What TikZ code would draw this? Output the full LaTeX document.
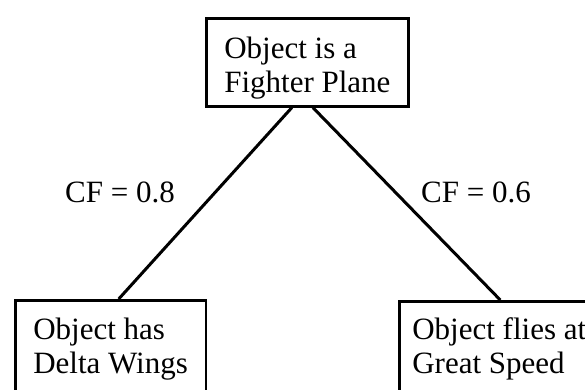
\documentclass[tikz,border=0pt]{standalone}
\usepackage{fontspec}
\setmainfont{Liberation Serif}
\usetikzlibrary{positioning, calc}

\begin{document}
\begin{tikzpicture}[x=1pt, y=-1pt,
    factbox/.style={draw, line width=2.6pt, align=left, inner ysep=0pt,
      inner xsep=18pt, anchor=north west, font=\fontsize{31}{34}\selectfont},
    cflabel/.style={anchor=base west, inner sep=0pt, font=\fontsize{31}{34}\selectfont},
    link/.style={line width=3pt}]
        \clip (0,0) rectangle (585,390);
        % goal and the two pieces of evidence
        \node[factbox, text height=74pt, text depth=14pt]
              (goal) at (205,17) {Object is a\\Fighter Plane};
        \node[factbox, text height=73pt, text depth=40pt]
              (wings) at (14,299) {Object has\\Delta Wings};
        \node[factbox, inner xsep=13pt, text height=72pt, text depth=40pt]
              (speed) at (398,300) {Object flies at\\Great Speed};
        \draw[link] ($(goal.south west)!0.424!(goal.south east)$)
              -- ($(wings.north west)!0.542!(wings.north east)$);
        \draw[link] ($(goal.south west)!0.527!(goal.south east)$)
              -- ($(speed.north west)!0.505!(speed.north east)$);
        \node[cflabel] (cfwings) at (65,202) {CF = 0.8};
        \node[cflabel] (cfspeed) at (421,202) {CF = 0.6};
      \end{tikzpicture}
\end{document}
